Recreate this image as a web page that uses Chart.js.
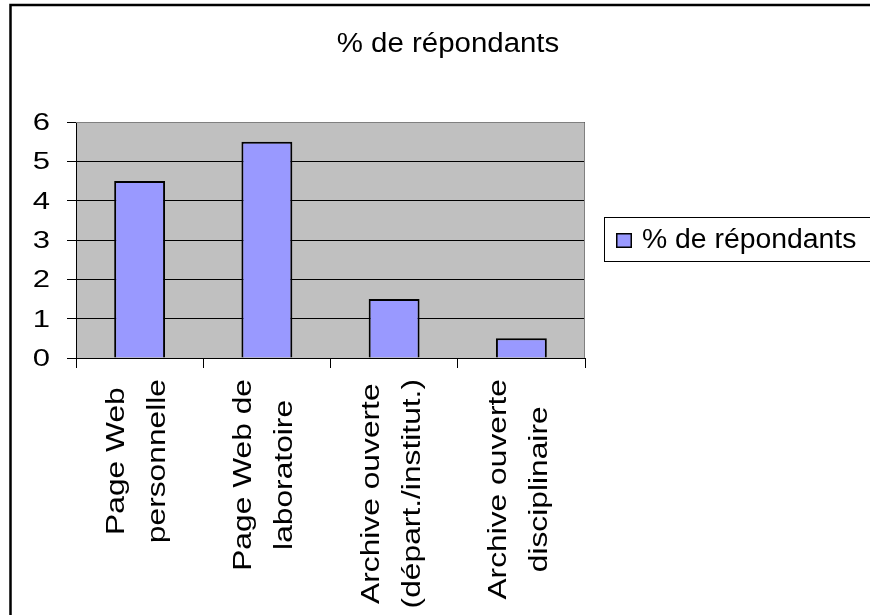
<!DOCTYPE html>
<html>
<head>
<meta charset="utf-8">
<script src="https://cdn.jsdelivr.net/npm/chart.js@4"></script>
<style>
  html, body { margin: 0; padding: 0; background: #fff; }
  #wrap { width: 870px; height: 615px; }
</style>
</head>
<body>
<div id="wrap"><canvas id="chart" width="870" height="615"></canvas></div>
<script>
// ============ Data ============
const chartTitle = '% de répondants';
const seriesLabel = '% de répondants';
const categoryLines = [
  ['Page Web', 'personnelle'],
  ['Page Web de', 'laboratoire'],
  ['Archive ouverte', '(départ./institut.)'],
  ['Archive ouverte', 'disciplinaire'],
];
const seriesValues = [4.5, 5.5, 1.5, 0.5];
const yTicks = [0, 1, 2, 3, 4, 5, 6];

// ============ Styles ============
const FONT_FAMILY = '"Liberation Sans", Arial, sans-serif';
const Y_FONT = '23px ' + FONT_FAMILY;
const Y_STRETCH = 1.35;
const X_FONT = '25px ' + FONT_FAMILY;
const X_STRETCH = 1.27;   // Excel axis text comes out wide
const BAR_COLOR = '#9999FF';
const PLOT_BG = '#C0C0C0';

// draw text stretched along its own direction
function stretchedText(ctx, text, x, y, sx, align, baseline) {
  ctx.save();
  ctx.translate(x, y);
  ctx.scale(sx, 1);
  ctx.textAlign = align;
  ctx.textBaseline = baseline;
  ctx.fillText(text, 0, 0);
  ctx.restore();
}

const backgroundPlugin = {
  id: 'plotBackground',
  beforeDraw(chart) {
    const { ctx, chartArea: a } = chart;
    ctx.save();
    ctx.fillStyle = '#fff';
    ctx.fillRect(0, 0, chart.width, chart.height);
    ctx.fillStyle = PLOT_BG;
    ctx.fillRect(a.left, a.top, a.right - a.left, a.bottom - a.top);
    ctx.restore();
  },
};

const decorPlugin = {
  id: 'decor',
  afterDraw(chart) {
    const { ctx, chartArea: a } = chart;
    ctx.save();

    // plot area border (top / right)
    ctx.strokeStyle = '#808080';
    ctx.lineWidth = 1;
    ctx.beginPath();
    ctx.moveTo(a.left, a.top + 0.5);
    ctx.lineTo(a.right - 0.5, a.top + 0.5);
    ctx.lineTo(a.right - 0.5, a.bottom);
    ctx.stroke();

    // outer chart frame (only left and top visible)
    ctx.strokeStyle = '#000';
    ctx.lineWidth = 2.5;
    ctx.beginPath();
    ctx.moveTo(10.5, chart.height + 2);
    ctx.lineTo(10.5, 5);
    ctx.lineTo(chart.width + 2, 5);
    ctx.stroke();

    ctx.fillStyle = '#000';

    // title
    ctx.font = '27px ' + FONT_FAMILY;
    stretchedText(ctx, chartTitle, 448, 52, 1.09, 'center', 'alphabetic');

    // y tick labels
    const ys = chart.scales.y;
    ctx.font = Y_FONT;
    yTicks.forEach(v => {
      stretchedText(ctx, String(v), 50, ys.getPixelForValue(v) + 8, Y_STRETCH, 'right', 'alphabetic');
    });

    // x category labels, rotated
    const xs = chart.scales.x;
    ctx.font = X_FONT;
    categoryLines.forEach((lines, i) => {
      const cx = xs.getPixelForValue(i);
      const widths = lines.map(l => ctx.measureText(l).width * X_STRETCH);
      const maxW = Math.max(...widths);
      const cy = a.bottom + 21 + maxW / 2;
      lines.forEach((line, j) => {
        const off = (j - (lines.length - 1) / 2) * 41 - 2;
        ctx.save();
        ctx.translate(cx + off, cy);
        ctx.rotate(-Math.PI / 2);
        ctx.scale(X_STRETCH, 1);
        ctx.textAlign = 'center';
        ctx.textBaseline = 'middle';
        ctx.fillText(line, 0, 0);
        ctx.restore();
      });
    });

    // legend
    ctx.strokeStyle = '#000';
    ctx.lineWidth = 1;
    ctx.strokeRect(604.5, 217.5, 300, 44);
    ctx.fillStyle = chart.data.datasets[0].backgroundColor;
    ctx.fillRect(616, 233, 16, 15);
    ctx.lineWidth = 1.5;
    ctx.strokeRect(616.75, 233.75, 14.5, 13.5);
    ctx.fillStyle = '#000';
    ctx.font = '27px ' + FONT_FAMILY;
    stretchedText(ctx, chart.data.datasets[0].label, 642, 248, 1.05, 'left', 'alphabetic');

    ctx.restore();
  },
};

const ctx = document.getElementById('chart').getContext('2d');
new Chart(ctx, {
  type: 'bar',
  data: {
    labels: categoryLines.map(l => l.join(' ')),
    datasets: [{
      label: seriesLabel,
      data: seriesValues,
      backgroundColor: BAR_COLOR,
      borderColor: '#000',
      borderWidth: 2,
      barPercentage: 0.4,
      categoryPercentage: 1,
    }],
  },
  options: {
    responsive: false,
    animation: false,
    layout: { padding: { top: 122, right: 285, bottom: 0, left: 0 } },
    plugins: {
      legend: { display: false },
      title: { display: false },
      tooltip: { enabled: false },
    },
    scales: {
      x: {
        offset: true,
        ticks: { display: false },
        grid: { offset: true, drawOnChartArea: false, drawTicks: true, tickLength: 10, color: '#000', lineWidth: 1 },
        border: { color: '#000', width: 1 },
        afterFit: s => { s.height = 257; },
      },
      y: {
        min: 0,
        max: 6,
        ticks: { display: false, stepSize: 1 },
        grid: { color: '#000', lineWidth: 1, tickLength: 9, drawTicks: true },
        border: { color: '#000', width: 1 },
        afterFit: s => { s.width = 76; },
      },
    },
  },
  plugins: [backgroundPlugin, decorPlugin],
});
</script>
</body>
</html>
